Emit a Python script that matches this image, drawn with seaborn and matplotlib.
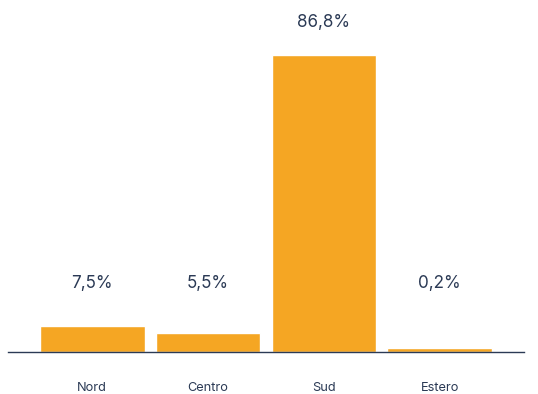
import matplotlib
matplotlib.use("Agg")
import matplotlib.pyplot as plt
import seaborn as sns
import numpy as np
import pandas as pd

categories = ["Nord", "Centro", "Sud", "Estero"]
values = [7.5, 5.5, 86.8, 0.2]
labels = ["7,5%", "5,5%", "86,8%", "0,2%"]

sns.set_style("white")
plt.rcParams['font.family'] = ['Inter', 'DejaVu Sans']

BAR = "#F5A623"
TXT = "#2B3A55"

df = pd.DataFrame({"cat": categories, "val": values})
# minimum visible bar height for display
df["shown"] = np.maximum(df["val"], 1.3)

fig = plt.figure(figsize=(5.38, 3.94), dpi=100)
ax = fig.add_axes([8/538, 42/394, 516/538, 352/394])
sns.barplot(data=df, x="cat", y="shown", color=BAR, saturation=1, width=0.905, ax=ax)

ax.set_ylim(0, 102.87)
ax.set_xlim(-0.728, 3.728)
for s in ["top", "right", "left"]:
    ax.spines[s].set_visible(False)
ax.spines["bottom"].set_color(TXT)
ax.spines["bottom"].set_linewidth(1.0)
ax.set_yticks([])
ax.set_xlabel("")
ax.set_ylabel("")
ax.tick_params(axis="x", length=0, pad=21.5, labelsize=9.2, labelcolor=TXT)

for i, (v, lab) in enumerate(zip(values, labels)):
    y = max(v + 9.6, 19.9)
    ax.text(i, y, lab, ha="center", va="center", fontsize=12.3, color=TXT)

fig.savefig("out.png", dpi=100)
